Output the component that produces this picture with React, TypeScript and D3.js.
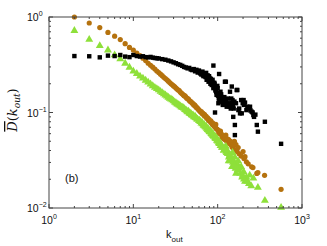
import React from "react";
import * as d3 from "d3";

// ---- data ----
const kBrown = [2,3,4,5,6,7,8,9,10,11,12,13,14,15,16,17,18,19,20,21,22,23,24,25,26,27,28,29,30,32,34,36,38,40,42,44,46,48,50,53,56,59,62,65,68,71,74,77,80,84,88,92,95,96,100,105,108,110,115,120,125,126,132,135,138,145,150,155,158,160,165,170,175,180,190,200,205,211,219,230,253,262,291,300,360,565,
  31,33,35,37,39,41,43,45,47,49,51,52,54,55,57,58,60,61,63,64,66,67,69,70,72,73,75,76,78,79,82,83,86,87,90,91,94,98,102,103,107,112,113,117,118,122,123,128,130,134,140,142,148,152];
const dBrown = [1.0,0.865,0.775,0.69,0.63,0.58,0.525,0.48,0.45,0.42,0.395,0.37,0.35,0.328,0.312,0.298,0.285,0.272,0.262,0.252,0.243,0.234,0.227,0.22,0.213,0.206,0.2,0.195,0.19,0.18,0.172,0.164,0.157,0.15,0.145,0.14,0.134,0.13,0.125,0.12,0.113,0.108,0.103,0.099,0.096,0.092,0.088,0.085,0.082,0.078,0.074,0.071,0.075,0.068,0.066,0.062,0.064,0.06,0.057,0.055,0.058,0.052,0.05,0.052,0.048,0.046,0.043,0.048,0.05,0.041,0.046,0.039,0.043,0.037,0.035,0.039,0.033,0.0345,0.0305,0.029,0.027,0.0265,0.023,0.0235,0.022,0.0157,
  0.186,0.176,0.17,0.16,0.153,0.149,0.141,0.138,0.131,0.128,0.124,0.12,0.118,0.115,0.112,0.11,0.106,0.105,0.101,0.102,0.097,0.098,0.093,0.095,0.09,0.091,0.087,0.088,0.083,0.085,0.08,0.082,0.076,0.078,0.073,0.075,0.07,0.067,0.065,0.061,0.06,0.058,0.055,0.056,0.053,0.052,0.055,0.05,0.053,0.048,0.047,0.05,0.044,0.046];

const kGreen = [2,3,4,5,6,7,8,9,10,11,12,13,14,15,16,17,18,19,20,22,24,26,28,30,32,34,36,38,40,43,46,49,52,55,58,62,66,70,74,78,82,86,90,95,100,105,110,115,120,125,126,132,135,138,145,148,150,155,160,165,170,175,180,190,195,203,211,219,235,240,265,300,363,565,
  21,23,25,27,29,31,33,35,37,39,41,42,44,45,47,48,50,51,53,54,56,57,60,61,64,65,68,69,72,73,76,77,80,81,84,85,88,89,93,94,98,99,103,104,108,109,112,118,122,128,130,136,140,142,152,158,163,172,185,198,205,225,250];
const dGreen = [0.72,0.58,0.5,0.45,0.4,0.363,0.327,0.297,0.27,0.255,0.24,0.228,0.217,0.207,0.198,0.19,0.183,0.177,0.172,0.161,0.152,0.144,0.138,0.132,0.126,0.121,0.117,0.113,0.11,0.104,0.099,0.095,0.091,0.088,0.085,0.08,0.076,0.072,0.068,0.065,0.062,0.059,0.056,0.053,0.05,0.047,0.045,0.043,0.041,0.044,0.039,0.037,0.031,0.035,0.033,0.027,0.038,0.031,0.034,0.023,0.029,0.031,0.026,0.027,0.021,0.024,0.019,0.021,0.018,0.022,0.0205,0.0164,0.012,0.0101,
  0.166,0.156,0.148,0.14,0.135,0.128,0.123,0.119,0.114,0.112,0.107,0.106,0.101,0.103,0.097,0.098,0.093,0.094,0.089,0.091,0.087,0.085,0.082,0.083,0.077,0.079,0.073,0.075,0.07,0.072,0.066,0.068,0.063,0.065,0.06,0.062,0.057,0.059,0.054,0.056,0.051,0.053,0.048,0.05,0.045,0.047,0.043,0.04,0.043,0.038,0.04,0.034,0.036,0.031,0.03,0.028,0.026,0.025,0.023,0.022,0.02,0.019,0.017];

const kBlack = [2,3,4,5,6,7,8,9,10,11,12,13,14,15,16,17,18,19,20,22,24,26,28,30,32,34,36,38,40,42,44,46,48,50,52,54,56,58,60,62,64,66,68,70,72,74,76,78,80,82,85,87,89,89,91,93,95,97,99,102,104,106,108,110,114,117,120,125,128,132,140,143,147,150,153,155,160,160,165,171,176,184,193,203,211,219,233,242,253,265,270,291,300,363,565,
  65,67,71,73,75,77,79,81,83,84,86,88,90,92,94,96,98,100,101,103,105,107,109,112,115,118,122,124,127,130,135,138,145,147,152,158,168,180,190,198,205,225,245,260,280];
const dBlack = [0.39,0.388,0.378,0.394,0.39,0.4,0.385,0.38,0.4,0.39,0.385,0.388,0.38,0.378,0.382,0.375,0.372,0.37,0.368,0.362,0.357,0.35,0.343,0.335,0.328,0.32,0.315,0.308,0.3,0.296,0.29,0.293,0.282,0.278,0.285,0.27,0.28,0.262,0.275,0.257,0.25,0.268,0.24,0.255,0.235,0.22,0.245,0.21,0.23,0.2,0.194,0.22,0.31,0.18,0.205,0.1,0.175,0.153,0.19,0.125,0.253,0.14,0.165,0.155,0.13,0.13,0.145,0.21,0.115,0.14,0.165,0.11,0.125,0.135,0.09,0.11,0.074,0.058,0.125,0.172,0.106,0.098,0.098,0.135,0.127,0.106,0.11,0.115,0.102,0.094,0.09,0.074,0.063,0.08,0.047,
  0.26,0.245,0.24,0.26,0.235,0.225,0.24,0.215,0.225,0.205,0.21,0.195,0.185,0.2,0.17,0.165,0.16,0.18,0.15,0.14,0.13,0.15,0.135,0.145,0.12,0.14,0.21,0.125,0.135,0.12,0.125,0.115,0.14,0.187,0.12,0.13,0.172,0.11,0.135,0.125,0.12,0.115,0.105,0.1,0.095];

const xTicks = [1, 10, 100, 1000];
const xTickExp = ["0", "1", "2", "3"];
const yTicks = [1, 0.1, 0.01];
const yTickExp = ["0", "\u22121", "\u22122"];

const W = 327, H = 246;
const M = { left: 49, right: 302, top: 17, bottom: 208 };
const FONT = "'Liberation Sans', Arial, sans-serif";
const AX = "#444";

export default function App() {
  const x = d3.scaleLog().domain([1, 1000]).range([M.left, M.right]);
  const y = d3.scaleLog().domain([0.01, 1]).range([M.bottom, M.top]);

  const minorX: number[] = [];
  for (let e = 0; e < 3; e++) for (let m = 2; m <= 9; m++) minorX.push(m * Math.pow(10, e));
  const minorY: number[] = [];
  for (let e = -2; e < 0; e++) for (let m = 2; m <= 9; m++) minorY.push(m * Math.pow(10, e));

  const tri = d3.symbol().type(d3.symbolTriangle).size(27)() as string;

  return (
    <svg width={W} height={H} style={{ position: "absolute", left: 0, top: 0, background: "#fff" }} fontFamily={FONT}>
      <rect x={0} y={0} width={W} height={H} fill="#fff" />
      {/* brown circles */}
      {kBrown.map((k, i) => (
        <circle key={"b" + i} cx={x(k)} cy={y(dBrown[i])} r={2.6} fill="#b5720e" />
      ))}
      {/* green triangles */}
      {kGreen.map((k, i) => (
        <path key={"g" + i} d={tri} transform={`translate(${x(k)},${y(dGreen[i])})`} fill="#8ee03a" />
      ))}
      {/* black squares */}
      {kBlack.map((k, i) => (
        <rect key={"k" + i} x={x(k) - 2.2} y={y(dBlack[i]) - 2.2} width={4.4} height={4.4} fill="#000" />
      ))}

      {/* frame */}
      <rect x={M.left} y={M.top} width={M.right - M.left} height={M.bottom - M.top} fill="none" stroke={AX} strokeWidth={1} />
      {/* x ticks */}
      {xTicks.map((t, i) => (
        <g key={"xt" + i}>
          <line x1={x(t)} x2={x(t)} y1={M.bottom} y2={M.bottom - 4} stroke={AX} />
          <line x1={x(t)} x2={x(t)} y1={M.top} y2={M.top + 4} stroke={AX} />
          <text x={x(t)} y={224} fontSize={10.5} textAnchor="middle" fill="#111">
            10<tspan fontSize={7} dy={-5}>{xTickExp[i]}</tspan>
          </text>
        </g>
      ))}
      {minorX.map((t, i) => (
        <g key={"xm" + i}>
          <line x1={x(t)} x2={x(t)} y1={M.bottom} y2={M.bottom - 2} stroke={AX} />
          <line x1={x(t)} x2={x(t)} y1={M.top} y2={M.top + 2} stroke={AX} />
        </g>
      ))}
      {/* y ticks */}
      {yTicks.map((t, i) => (
        <g key={"yt" + i}>
          <line x1={M.left} x2={M.left + 4} y1={y(t)} y2={y(t)} stroke={AX} />
          <line x1={M.right} x2={M.right - 4} y1={y(t)} y2={y(t)} stroke={AX} />
          <text x={27} y={y(t) + 4} fontSize={10.5} textAnchor="start" fill="#111">
            10<tspan fontSize={7} dy={-5}>{yTickExp[i]}</tspan>
          </text>
        </g>
      ))}
      {minorY.map((t, i) => (
        <g key={"ym" + i}>
          <line x1={M.left} x2={M.left + 2} y1={y(t)} y2={y(t)} stroke={AX} />
          <line x1={M.right} x2={M.right - 2} y1={y(t)} y2={y(t)} stroke={AX} />
        </g>
      ))}

      {/* axis labels */}
      <text x={166} y={238} fontSize={11} fill="#111">
        k<tspan fontSize={8} dy={4}>out</tspan>
      </text>
      <text transform="translate(17,110) rotate(-90)" textAnchor="middle" fontSize={13}
        fontFamily="'DejaVu Serif', 'Liberation Serif', serif" fontStyle="italic" fill="#111">
        <tspan textDecoration="overline" style={{ textDecoration: "overline" }}>D</tspan>
        <tspan fontStyle="normal">(</tspan>k<tspan fontSize={9} dy={3}>out</tspan>
        <tspan fontStyle="normal" dy={-3}>)</tspan>
      </text>
      <text x={65} y={182} fontSize={11} fill="#111">(b)</text>
    </svg>
  );
}
